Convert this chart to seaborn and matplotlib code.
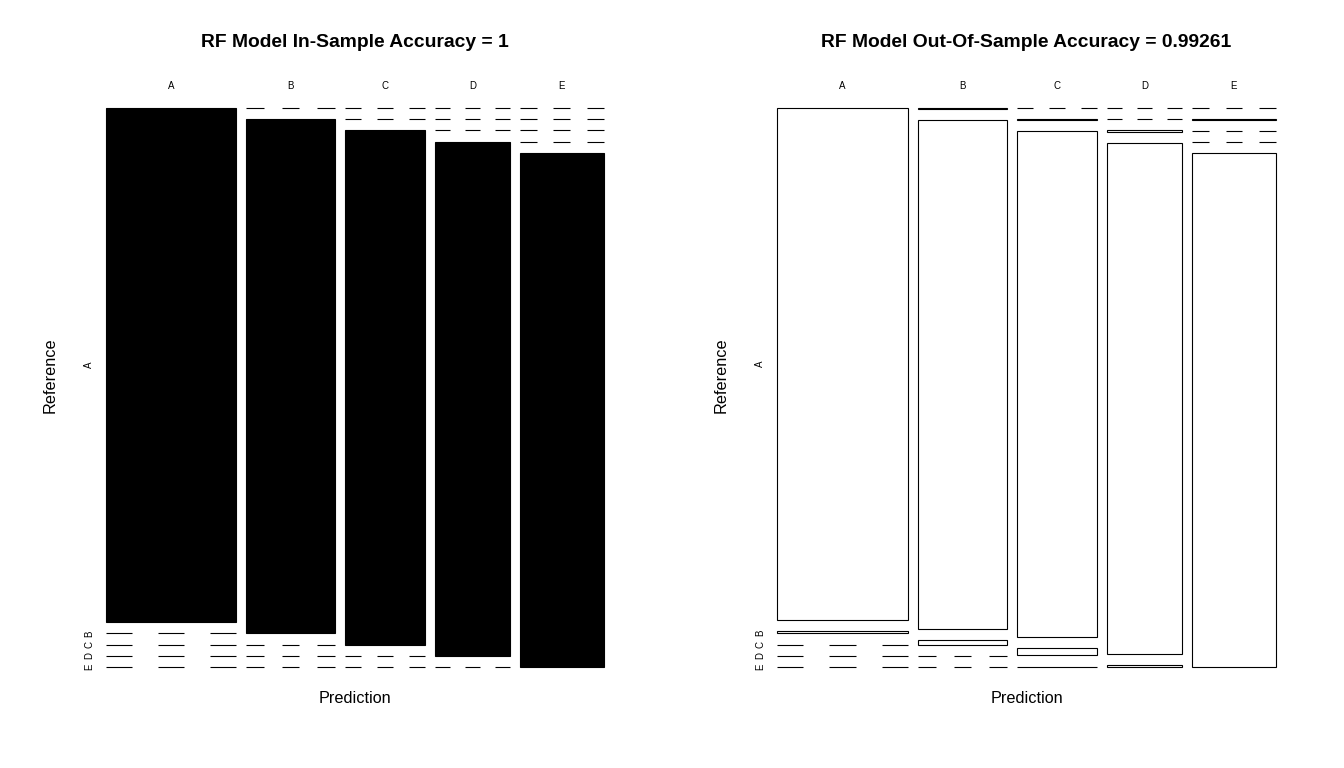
import numpy as np
import matplotlib.pyplot as plt
import seaborn as sns
from matplotlib.patches import Rectangle

sns.set_style("white")
plt.rcParams['font.family'] = ['Liberation Sans', 'DejaVu Sans']
plt.rcParams['text.color'] = 'black'

classes = ["A", "B", "C", "D", "E"]

# confusion matrices: rows = Reference, columns = Prediction
train_counts = [3348, 2279, 2054, 1930, 2165]
train_cm = np.diag(train_counts)

test_ref_A = [2230, 2, 0, 0, 0]
test_ref_B = [9, 1505, 3, 0, 1]
test_ref_C = [0, 14, 1351, 3, 0]
test_ref_D = [0, 0, 20, 1266, 0]
test_ref_E = [0, 0, 1, 5, 1436]
test_cm = np.array([test_ref_A, test_ref_B, test_ref_C, test_ref_D, test_ref_E])

titles = ["RF Model In-Sample Accuracy = 1",
          "RF Model Out-Of-Sample Accuracy = 0.99261"]


def mosaic(ax, cm, filled, title, off=0.08):
    # R style mosaicplot: columns split by Prediction, rows by Reference
    n = cm.shape[0]
    col_tot = cm.sum(axis=0)
    gap = off / (n - 1)
    xw = (1 - off) * col_tot / col_tot.sum()
    xl = np.concatenate([[0], np.cumsum(xw + gap)[:-1]])
    for j in range(n):
        yh = (1 - off) * cm[:, j] / col_tot[j]
        yt = 1 - np.concatenate([[0], np.cumsum(yh + gap)[:-1]])
        x0, w = xl[j], xw[j]
        for i in range(n):
            if cm[i, j] > 0:
                ax.add_patch(Rectangle((x0, yt[i] - yh[i]), w, yh[i],
                                       fc='black' if filled else 'white',
                                       ec='black', lw=0.8, clip_on=False))
            else:
                # zero cell -> dashed line
                starts = x0 + w * np.array([0, 0.4, 0.8])
                ax.hlines([yt[i]] * 3, starts, starts + w * 0.2,
                          color='black', lw=0.8, clip_on=False)
            if j == 0:
                ax.text(-0.034, yt[i] - yh[i] / 2, classes[i], rotation=90,
                        ha='center', va='center', fontsize=7)
        ax.text(x0 + w / 2, 1.039, classes[j], ha='center', va='center',
                fontsize=7)
    ax.set_xlim(0, 1)
    ax.set_ylim(0, 1)
    ax.axis('off')
    ax.text(0.5, 1.118, title, ha='center', va='center', fontsize=13.9,
            fontweight='bold')
    ax.text(0.5, -0.057, "Prediction", ha='center', va='center', fontsize=11.7)
    ax.text(-0.112, 0.522, "Reference", ha='center', va='center',
            rotation=90, fontsize=11.7)


fig = plt.figure(figsize=(13.44, 7.68), dpi=100)
ax1 = fig.add_axes([106 / 1344, 101 / 768, 498 / 1344, 559 / 768])
ax2 = fig.add_axes([777 / 1344, 101 / 768, 499 / 1344, 559 / 768])

mosaic(ax1, train_cm, True, titles[0])
mosaic(ax2, test_cm, False, titles[1])

fig.savefig("out.png", dpi=100, facecolor='white')
